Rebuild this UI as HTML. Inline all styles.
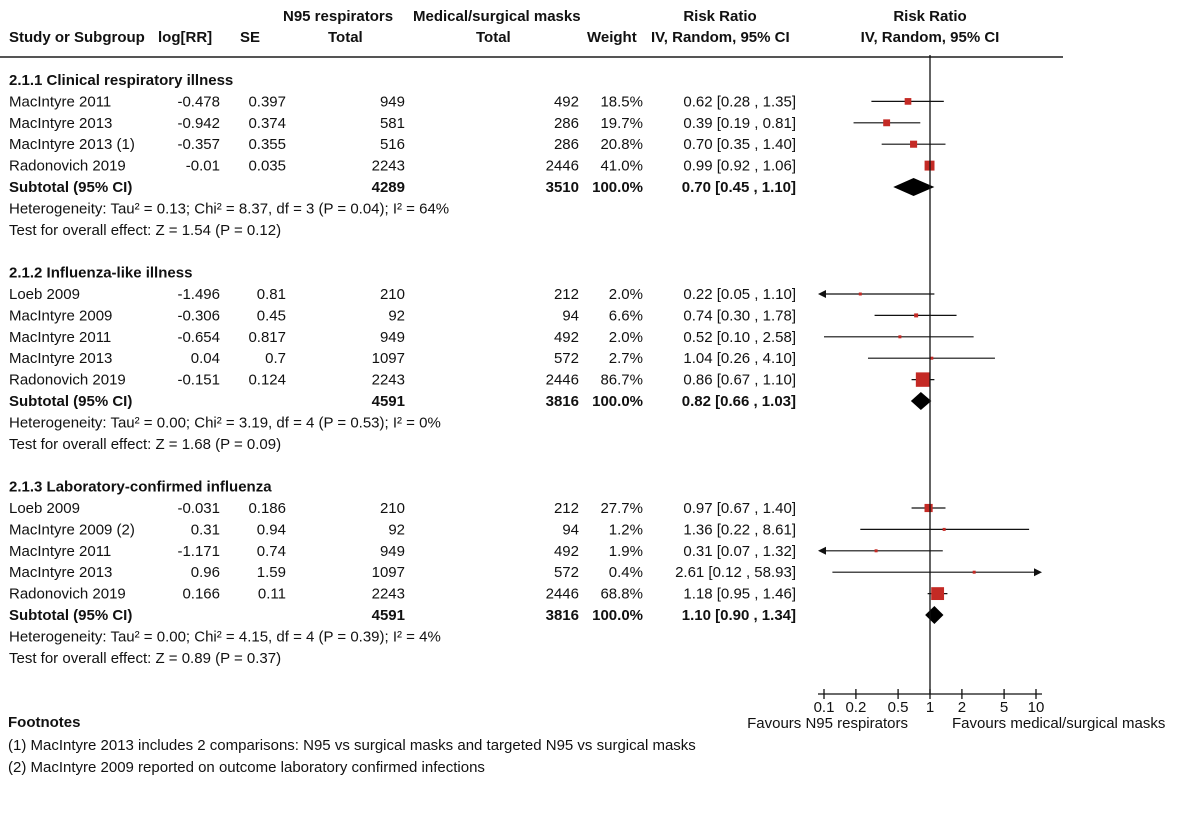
<!DOCTYPE html>
<html><head><meta charset="utf-8"><style>
html,body{margin:0;padding:0;background:#fff}
svg{display:block}
text{font-family:"Liberation Sans",Arial,sans-serif;font-size:15px;fill:#111}
.b{font-weight:bold}
</style></head><body>
<svg id="fp" width="1200" height="821" viewBox="0 0 1200 821" xmlns="http://www.w3.org/2000/svg">
<g>
<text class="b" x="283" y="21">N95 respirators</text>
<text class="b" x="413" y="21">Medical/surgical masks</text>
<text class="b" x="720" y="21" text-anchor="middle">Risk Ratio</text>
<text class="b" x="930" y="21" text-anchor="middle">Risk Ratio</text>
<text class="b" x="9" y="42">Study or Subgroup</text>
<text class="b" x="158" y="42">log[RR]</text>
<text class="b" x="240" y="42">SE</text>
<text class="b" x="328" y="42">Total</text>
<text class="b" x="476" y="42">Total</text>
<text class="b" x="587" y="42">Weight</text>
<text class="b" x="651" y="42">IV, Random, 95% CI</text>
<text class="b" x="930" y="42" text-anchor="middle">IV, Random, 95% CI</text>
</g>
<line x1="0" y1="57" x2="1063" y2="57" stroke="#555" stroke-width="2"/>
<g id="rows"></g>
<g id="marks"></g>
<g id="axis"></g>
<g>
<text class="b" x="8" y="727">Footnotes</text>
<text x="8" y="750">(1) MacIntyre 2013 includes 2 comparisons: N95 vs surgical masks and targeted N95 vs surgical masks</text>
<text x="8" y="772">(2) MacIntyre 2009 reported on outcome laboratory confirmed infections</text>
</g>
</svg>
<script>
const groupTitles=["2.1.1 Clinical respiratory illness","2.1.2 Influenza-like illness","2.1.3 Laboratory-confirmed influenza"];
const studies=[["MacIntyre 2011","MacIntyre 2013","MacIntyre 2013 (1)","Radonovich 2019"],["Loeb 2009","MacIntyre 2009","MacIntyre 2011","MacIntyre 2013","Radonovich 2019"],["Loeb 2009","MacIntyre 2009 (2)","MacIntyre 2011","MacIntyre 2013","Radonovich 2019"]];
const logRR=[["-0.478","-0.942","-0.357","-0.01"],["-1.496","-0.306","-0.654","0.04","-0.151"],["-0.031","0.31","-1.171","0.96","0.166"]];
const seVals=[["0.397","0.374","0.355","0.035"],["0.81","0.45","0.817","0.7","0.124"],["0.186","0.94","0.74","1.59","0.11"]];
const n95Total=[[949,581,516,2243],[210,92,949,1097,2243],[210,92,949,1097,2243]];
const maskTotal=[[492,286,286,2446],[212,94,492,572,2446],[212,94,492,572,2446]];
const weights=[[18.5,19.7,20.8,41.0],[2.0,6.6,2.0,2.7,86.7],[27.7,1.2,1.9,0.4,68.8]];
const rr=[[0.62,0.39,0.70,0.99],[0.22,0.74,0.52,1.04,0.86],[0.97,1.36,0.31,2.61,1.18]];
const lo=[[0.28,0.19,0.35,0.92],[0.05,0.30,0.10,0.26,0.67],[0.67,0.22,0.07,0.12,0.95]];
const hi=[[1.35,0.81,1.40,1.06],[1.10,1.78,2.58,4.10,1.10],[1.40,8.61,1.32,58.93,1.46]];
const subN95=[4289,4591,4591];
const subMask=[3510,3816,3816];
const subRR=[0.70,0.82,1.10];
const subLo=[0.45,0.66,0.90];
const subHi=[1.10,1.03,1.34];
const hetText=["Heterogeneity: Tau² = 0.13; Chi² = 8.37, df = 3 (P = 0.04); I² = 64%","Heterogeneity: Tau² = 0.00; Chi² = 3.19, df = 4 (P = 0.53); I² = 0%","Heterogeneity: Tau² = 0.00; Chi² = 4.15, df = 4 (P = 0.39); I² = 4%"];
const testText=["Test for overall effect: Z = 1.54 (P = 0.12)","Test for overall effect: Z = 1.68 (P = 0.09)","Test for overall effect: Z = 0.89 (P = 0.37)"];
const ticks=[0.1,0.2,0.5,1,2,5,10];

const NS="http://www.w3.org/2000/svg";
const X0=930, DEC=106, AX_MIN=0.1, AX_MAX=10, LEFT=818, RIGHT=1042, AXY=694;
const xs=v=>X0+DEC*Math.log10(v);
const yRow=k=>80+21.4*k;
function mk(tag,attrs,parent,txt){const e=document.createElementNS(NS,tag);for(const k in attrs)e.setAttribute(k,attrs[k]);if(txt!==undefined)e.textContent=txt;parent.appendChild(e);return e;}
const rows=document.getElementById('rows'), marks=document.getElementById('marks'), axis=document.getElementById('axis');
const f2=v=>v.toFixed(2);
function txt(x,y,s,anchor,bold,name){const t=mk('text',{x:x,y:y+5,'text-anchor':anchor||'start'},rows,s);if(bold)t.setAttribute('class','b');


return t;}
let k=0;
for(let g=0;g<3;g++){
  txt(9,yRow(k),groupTitles[g],'start',true,'group-title');k++;
  for(let i=0;i<studies[g].length;i++){
    const y=yRow(k);
    txt(9,y,studies[g][i],'start',false,'study-name');
    txt(220,y,logRR[g][i],'end',false,'log-rr');
    txt(286,y,seVals[g][i],'end',false,'se');
    txt(405,y,String(n95Total[g][i]),'end',false,'n95-total');
    txt(579,y,String(maskTotal[g][i]),'end',false,'mask-total');
    txt(643,y,weights[g][i].toFixed(1)+'%','end',false,'weight');
    txt(796,y,f2(rr[g][i])+' ['+f2(lo[g][i])+' , '+f2(hi[g][i])+']','end',false,'risk-ratio-ci');
    const l=Math.max(lo[g][i],AX_MIN), h=Math.min(hi[g][i],AX_MAX);
    const ln=mk('line',{x1:xs(l),y1:y,x2:xs(h),y2:y,stroke:'#111','stroke-width':1.2},marks);
    
    
    if(lo[g][i]<AX_MIN){const a=mk('polygon',{points:`${LEFT},${y} ${LEFT+8},${y-4} ${LEFT+8},${y+4}`,fill:'#111'},marks);
      
      }
    if(hi[g][i]>AX_MAX){const a=mk('polygon',{points:`${RIGHT},${y} ${RIGHT-8},${y-4} ${RIGHT-8},${y+4}`,fill:'#111'},marks);
      
      }
    const s=Math.max(3,1.55*Math.sqrt(weights[g][i]));
    const sq=mk('rect',{x:xs(rr[g][i])-s/2,y:y-s/2,width:s,height:s,fill:'#c42a25'},marks);
    
    
    k++;
  }
  const y=yRow(k);
  txt(9,y,'Subtotal (95% CI)','start',true,'subtotal-label');
  txt(405,y,String(subN95[g]),'end',true,'subtotal-n95');
  txt(579,y,String(subMask[g]),'end',true,'subtotal-mask');
  txt(643,y,'100.0%','end',true,'subtotal-weight');
  txt(796,y,f2(subRR[g])+' ['+f2(subLo[g])+' , '+f2(subHi[g])+']','end',true,'subtotal-ci');
  const d=mk('polygon',{points:`${xs(subLo[g])},${y} ${xs(subRR[g])},${y-9} ${xs(subHi[g])},${y} ${xs(subRR[g])},${y+9}`,fill:'#000'},marks);
  
  
  k++;
  txt(9,yRow(k),hetText[g],'start',false,'heterogeneity');k++;
  txt(9,yRow(k),testText[g],'start',false,'overall-effect-test');k++;
  k++;
}
const v=mk('line',{x1:X0,y1:55,x2:X0,y2:AXY,stroke:'#111','stroke-width':1.3},axis);


const al=mk('line',{x1:LEFT,y1:AXY,x2:RIGHT,y2:AXY,stroke:'#111','stroke-width':1.3},axis);


ticks.forEach(t=>{
  const tl=mk('line',{x1:xs(t),y1:AXY-5,x2:xs(t),y2:AXY+5,stroke:'#111','stroke-width':1.3},axis);
  
  
  const lb=mk('text',{x:xs(t),y:AXY+18,'text-anchor':'middle'},axis,String(t));
  
  
});
const f1=mk('text',{x:908,y:728,'text-anchor':'end'},axis,'Favours N95 respirators');


const f3=mk('text',{x:952,y:728},axis,'Favours medical/surgical masks');


</script>
</body></html>
